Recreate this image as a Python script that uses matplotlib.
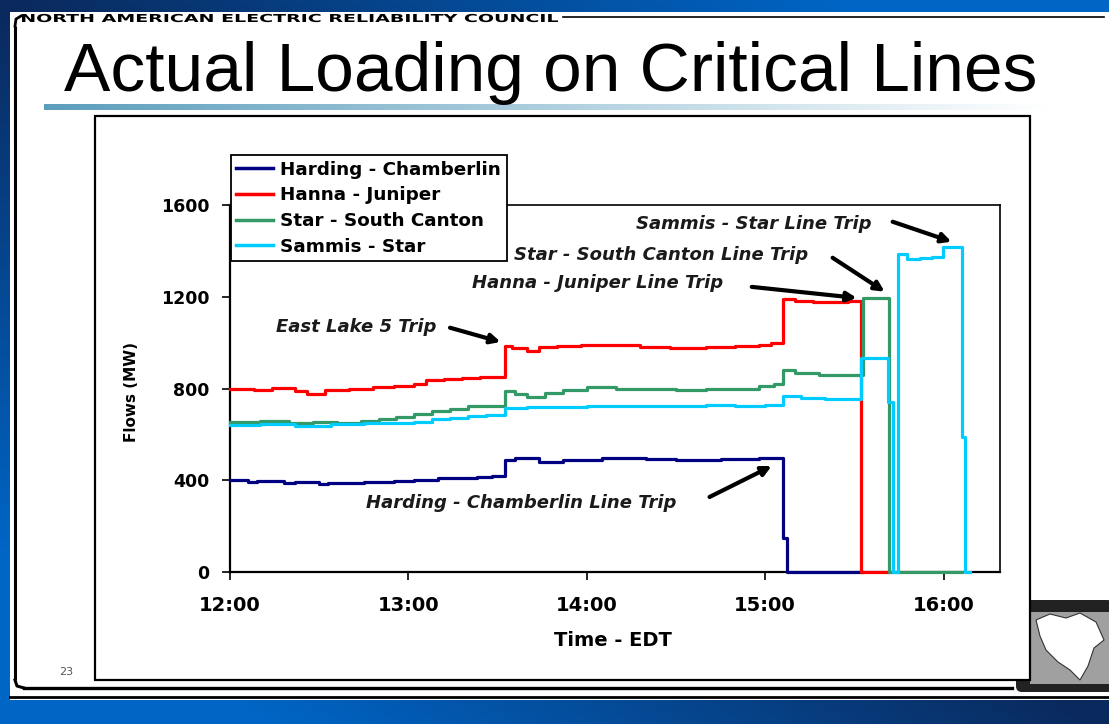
import numpy as np
import matplotlib
matplotlib.use("Agg")
import matplotlib.pyplot as plt
from matplotlib.patches import Rectangle, FancyBboxPatch, PathPatch, Polygon
from matplotlib.textpath import TextPath
from matplotlib.font_manager import FontProperties
from matplotlib.transforms import Affine2D

# ---- data (minutes after 12:00 EDT, MW) ----
hc_t = [0, 6, 9, 18, 22, 30, 33, 45, 55, 62, 70, 76, 83, 88, 92.4, 96, 104, 112, 125, 140, 150, 165, 178, 185.9, 187.2, 212.5]
hc_v = [400, 392, 398, 390, 392, 385, 390, 392, 396, 400, 408, 410, 416, 420, 488, 495, 480, 490, 495, 492, 490, 492, 496, 150, 0, 0]

hj_t = [0, 8, 14, 22, 26, 32, 40, 48, 55, 62, 66, 72, 78, 84, 92.4, 95, 100, 104, 110, 118, 128, 138, 148, 160, 170, 178, 182,
        185.9, 190, 196, 203, 208, 212.1, 221.2]
hj_v = [800, 795, 802, 790, 778, 792, 800, 805, 810, 820, 835, 840, 845, 852, 985, 978, 965, 980, 985, 990, 988, 982, 978, 980, 984, 990, 1000,
        1190, 1182, 1178, 1175, 1182, 0, 0]

sc_t = [0, 10, 20, 28, 36, 44, 50, 56, 62, 68, 74, 80, 86, 92.4, 96, 100, 106, 112, 120, 130, 140, 150, 160, 170, 178, 183,
        185.9, 190, 198, 205, 212.8, 221.5, 246.1]
sc_v = [655, 660, 650, 652, 648, 658, 665, 675, 690, 700, 712, 722, 725, 790, 775, 765, 782, 795, 805, 800, 798, 795, 798, 800, 812, 820,
        880, 868, 860, 858, 1195, 0, 0]

ss_t = [0, 10, 22, 34, 45, 55, 62, 68, 74, 80, 86, 92.4, 100, 110, 120, 130, 140, 150, 160, 170, 180, 185.9, 192, 200,
        212.1, 221.2, 222.9, 224.8, 227.6, 232, 236, 239.7, 246.1, 247.1, 249]
ss_v = [640, 645, 638, 645, 648, 650, 655, 665, 670, 678, 685, 715, 718, 720, 722, 725, 722, 725, 728, 725, 730, 768, 760, 755,
        935, 740, 0, 1385, 1365, 1370, 1375, 1418, 590, 0, 0]

series = [("Harding - Chamberlin", hc_t, hc_v, "#000080"),
          ("Hanna - Juniper", hj_t, hj_v, "#FF0000"),
          ("Star - South Canton", sc_t, sc_v, "#339966"),
          ("Sammis - Star", ss_t, ss_v, "#00CCFF")]

x_ticks = [0, 60, 120, 180, 240]
x_labels = ["12:00", "13:00", "14:00", "15:00", "16:00"]
y_ticks = [0, 400, 800, 1200, 1600]

# (label, text pos, arrow tail, arrow head) in data units
events = [("East Lake 5 Trip", (42.4, 1069), (74, 1065), (91, 1003)),
          ("Hanna - Juniper Line Trip", (123.7, 1261), (175.5, 1243), (210.8, 1195)),
          ("Star - South Canton Line Trip", (144.9, 1383), (202.7, 1370), (220.2, 1222)),
          ("Sammis - Star Line Trip", (176.1, 1518), (222.9, 1527), (242.7, 1440)),
          ("Harding - Chamberlin Line Trip", (97.8, 301), (161.3, 327), (182.2, 462))]

W, H = 1109, 724
fig = plt.figure(figsize=(W / 100, H / 100), dpi=100)

# ---- slide background ----
bg = fig.add_axes([0, 0, 1, 1])
bg.set_xlim(0, W); bg.set_ylim(H, 0); bg.axis("off")
u, v = np.meshgrid(np.linspace(0, 1, 300), np.linspace(0, 1, 200))
t = np.clip(np.abs(u - v) * 1.3, 0, 1)[..., None]
dark, blue = np.array([0.04, 0.16, 0.36]), np.array([0.0, 0.40, 0.78])
bg.imshow(dark + t * (blue - dark), extent=(0, W, H, 0), aspect="auto", zorder=0)
bg.add_patch(Rectangle((10, 12), W - 10, 688, fc="white", ec="none", zorder=1))

# slide border
bg.plot([15, 15], [26, 680], color="black", lw=2.2, zorder=2, solid_capstyle="butt")
bg.plot([15, 16, 21], [26, 19, 16], color="black", lw=2.0, zorder=2)
bg.plot([15, 17, 24], [680, 686, 688], color="black", lw=2.2, zorder=2)
bg.plot([24, 1012], [688, 688], color="black", lw=2.4, zorder=2)
bg.plot([10, W], [697, 697], color="black", lw=2.0, zorder=2)
bg.plot([563, 1104], [17, 17], color="black", lw=1.2, zorder=2)

# header text, stretched wide
tp = TextPath((0, 0), "NORTH AMERICAN ELECTRIC RELIABILITY COUNCIL", size=10,
              prop=FontProperties(family="DejaVu Sans", weight="bold"))
ext = tp.get_extents()
sx = (558 - 22) / ext.width
sy = 8.0 / 7.3
tp = tp.transformed(Affine2D().translate(-ext.x0, 0).scale(sx, -sy).translate(22, 22))
bg.add_patch(PathPatch(tp, fc="black", ec="none", zorder=3))

# title
bg.text(64, 91, "Actual Loading on Critical Lines", fontsize=50, family="Liberation Sans",
        ha="left", va="baseline", color="black", zorder=3)

# title underline gradient
grad = np.ones((1, 256, 4))
c0 = np.array([0.36, 0.62, 0.74])
f = np.linspace(0, 1, 256)[:, None]
grad[0, :, :3] = c0 + f * (1 - c0)
bg.imshow(grad, extent=(44, 1050, 110, 104), aspect="auto", zorder=2)

# logo (bottom right)
bg.add_patch(FancyBboxPatch((1016, 600), 97, 92, boxstyle="round,pad=0,rounding_size=6",
                            fc="#222222", ec="none", zorder=2))
bg.add_patch(Rectangle((1030, 612), 79, 72, fc="#a0a0a0", ec="none", zorder=2))
bg.add_patch(Polygon([(1036, 620), (1050, 614), (1066, 618), (1080, 613), (1096, 622), (1104, 640),
                      (1094, 648), (1088, 666), (1080, 680), (1070, 670), (1058, 662), (1046, 650),
                      (1040, 636)], closed=True, fc="white", ec="#333333", lw=0.8, zorder=2))

# chart box
bg.add_patch(Rectangle((95, 116), 935, 564, fc="white", ec="black", lw=1.6, zorder=4))
bg.text(66, 672, "23", fontsize=8, color="#555555", ha="center", va="center", zorder=5)

# ---- chart ----
ax = fig.add_axes([230 / W, 1 - 572 / H, 770 / W, 367 / H], zorder=5)
ax.patch.set_alpha(0)
for name, tt, vv, col in series:
    ax.plot(tt, vv, drawstyle="steps-post", color=col, lw=2.3, label=name,
            zorder=3, clip_on=False)

ax.set_xlim(0, 259)
ax.set_ylim(0, 1600)
ax.set_xticks(x_ticks)
ax.set_xticklabels(x_labels)
ax.set_yticks(y_ticks)
ax.tick_params(axis="x", direction="out", length=6, width=1.2, pad=11, labelsize=14)
ax.tick_params(axis="y", direction="out", length=6, width=1.2, pad=9, labelsize=12.5)
for lab in ax.get_xticklabels() + ax.get_yticklabels():
    lab.set_fontweight("bold")
for s in ["left", "bottom"]:
    ax.spines[s].set_linewidth(1.6)
for s in ["top", "right"]:
    ax.spines[s].set_linewidth(1.2)

ax.set_xlabel("Time - EDT", fontsize=14, fontweight="bold")
ax.xaxis.set_label_coords(0.497, -0.16)
ax.set_ylabel("Flows (MW)", fontsize=11, fontweight="bold")
ax.yaxis.set_label_coords(-0.118, 0.49)

for label, tpos, tail, head in events:
    ax.text(tpos[0], tpos[1], label, fontsize=13, fontweight="bold", fontstyle="italic",
            color="#1a1a1a", ha="center", va="center")
    ax.annotate("", xy=head, xytext=tail,
                arrowprops=dict(arrowstyle="-|>", color="black", lw=3, mutation_scale=14,
                                shrinkA=0, shrinkB=0))

leg = ax.legend(loc="upper left", bbox_to_anchor=(0.001, 1.136), borderaxespad=0,
                fancybox=False, framealpha=1, edgecolor="black",
                prop={"weight": "bold", "size": 13.2}, handlelength=2.0, handletextpad=0.4,
                labelspacing=0.42, borderpad=0.3)
leg.set_zorder(6)
leg.get_frame().set_linewidth(1.3)
for ln in leg.get_lines():
    ln.set_linewidth(2.5)

fig.savefig("out.png", dpi=100)
